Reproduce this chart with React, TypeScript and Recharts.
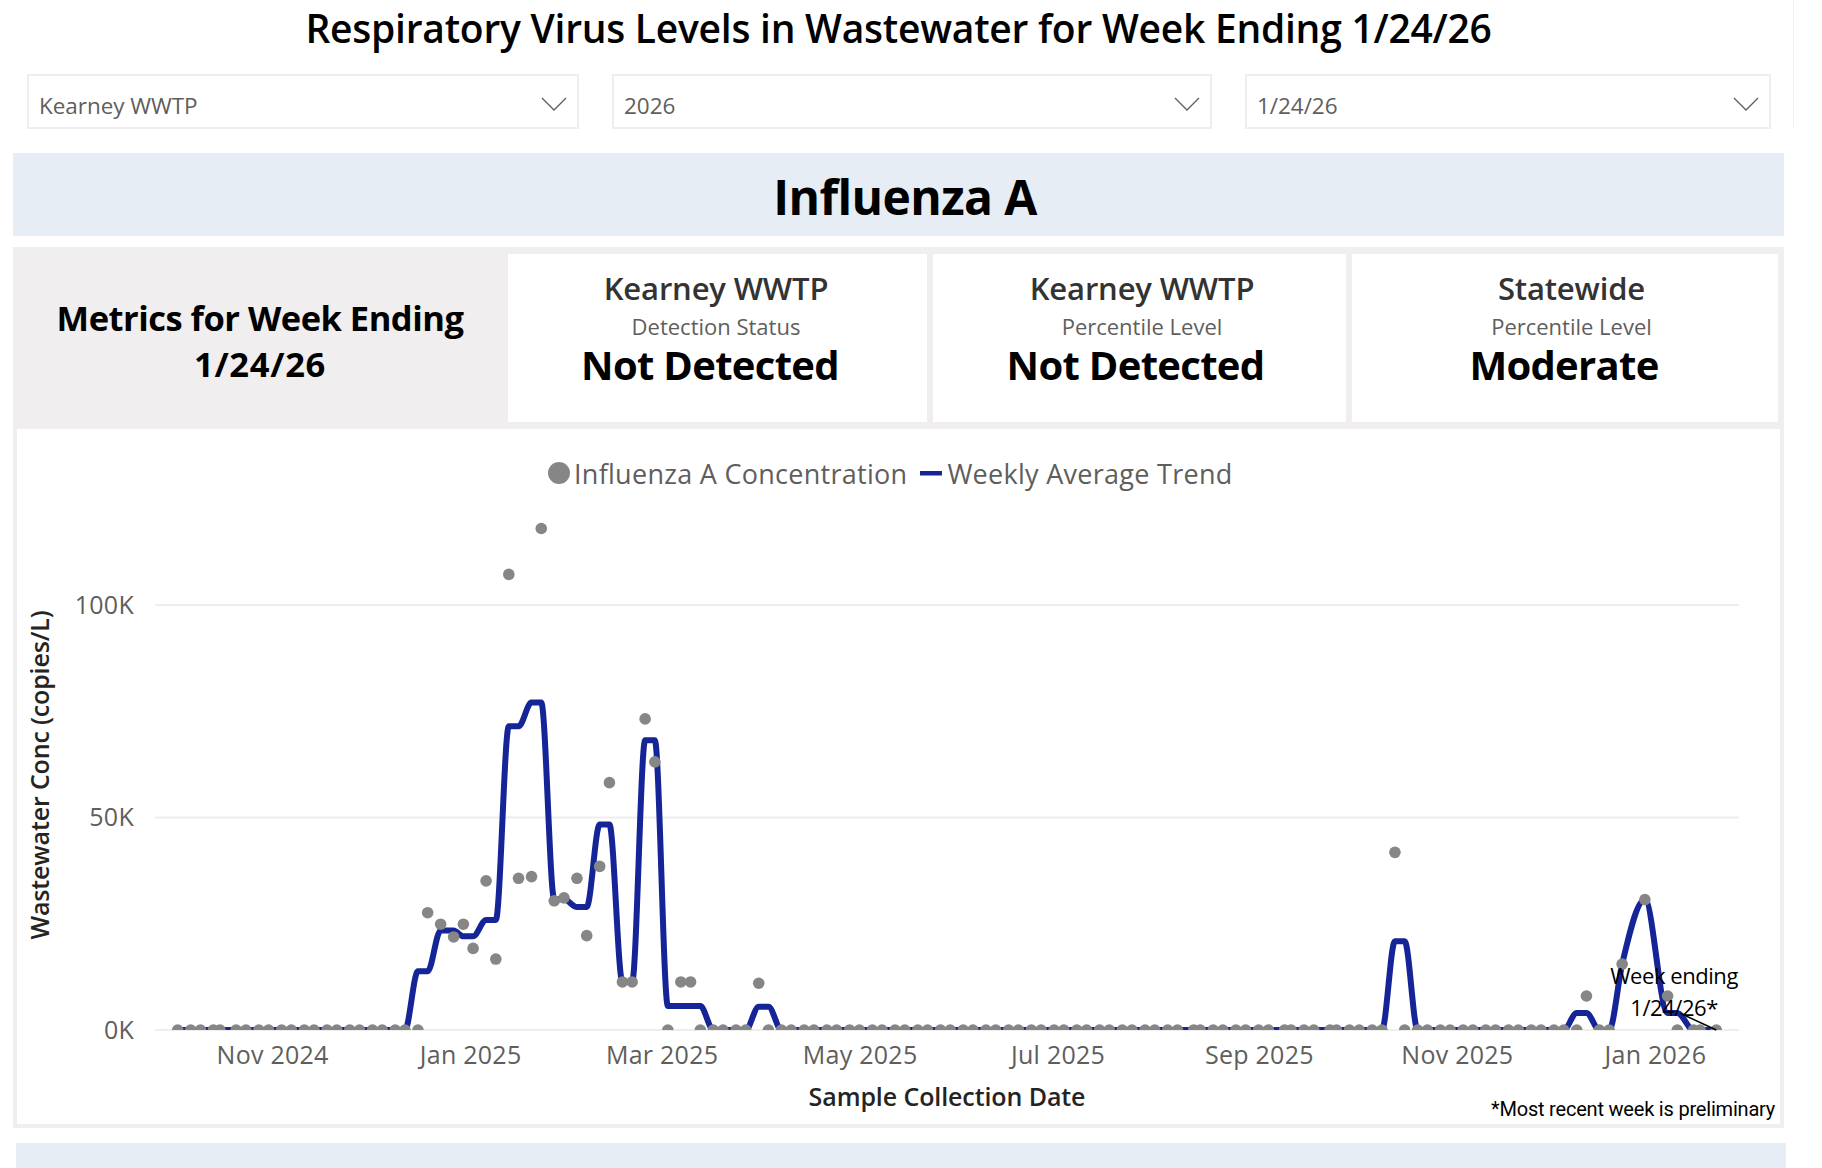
import React from "react";
import { ComposedChart, Line, XAxis, YAxis, CartesianGrid, Legend, ReferenceLine, ReferenceDot } from "recharts";

const sampleDates = [
  "2024-10-04","2024-10-08","2024-10-11","2024-10-15","2024-10-17","2024-10-22","2024-10-25","2024-10-29",
  "2024-11-01","2024-11-05","2024-11-08","2024-11-12","2024-11-15","2024-11-19","2024-11-22","2024-11-26","2024-11-29",
  "2024-12-03","2024-12-06","2024-12-10","2024-12-13","2024-12-17","2024-12-20","2024-12-24","2024-12-28","2024-12-31",
  "2025-01-03","2025-01-07","2025-01-10","2025-01-14","2025-01-17","2025-01-21","2025-01-24","2025-01-28","2025-01-31",
  "2025-02-04","2025-02-07","2025-02-11","2025-02-14","2025-02-18","2025-02-21","2025-02-25","2025-02-28",
  "2025-03-04","2025-03-08","2025-03-11","2025-03-14","2025-03-18","2025-03-21","2025-03-25","2025-03-28",
  "2025-04-01","2025-04-04","2025-04-08","2025-04-11","2025-04-15","2025-04-18","2025-04-22","2025-04-25","2025-04-29",
  "2025-05-02","2025-05-06","2025-05-09","2025-05-13","2025-05-16","2025-05-20","2025-05-23","2025-05-27","2025-05-30",
  "2025-06-03","2025-06-06","2025-06-10","2025-06-13","2025-06-17","2025-06-20","2025-06-24","2025-06-27",
  "2025-07-01","2025-07-04","2025-07-08","2025-07-11","2025-07-15","2025-07-18","2025-07-22","2025-07-25","2025-07-29",
  "2025-08-01","2025-08-05","2025-08-08","2025-08-13","2025-08-15","2025-08-19","2025-08-22","2025-08-26","2025-08-29",
  "2025-09-02","2025-09-05","2025-09-10","2025-09-12","2025-09-16","2025-09-19","2025-09-24","2025-09-26","2025-09-30",
  "2025-10-03","2025-10-07","2025-10-10","2025-10-14","2025-10-17","2025-10-21","2025-10-24","2025-10-28","2025-10-31",
  "2025-11-04","2025-11-07","2025-11-11","2025-11-14","2025-11-18","2025-11-21","2025-11-25","2025-11-28",
  "2025-12-02","2025-12-05","2025-12-09","2025-12-12","2025-12-16","2025-12-19","2025-12-23","2025-12-30",
  "2026-01-06","2026-01-09","2026-01-14","2026-01-16","2026-01-21",
];

const concentration = [
  0,0,0,0,0,0,0,0,
  0,0,0,0,0,0,0,0,0,
  0,0,0,0,0,27600,24900,21900,24900,
  19200,35100,16700,107200,35700,36100,118000,30400,31100,
  35700,22200,38500,58200,11300,11300,73200,63100,
  0,11300,11300,0,0,0,0,0,
  11000,0,0,0,0,0,0,0,0,
  0,0,0,0,0,0,0,0,0,
  0,0,0,0,0,0,0,0,
  0,0,0,0,0,0,0,0,0,
  0,0,0,0,0,0,0,0,0,
  0,0,0,0,0,0,0,0,0,
  0,0,0,41800,0,0,0,0,0,
  0,0,0,0,0,0,0,0,
  0,0,0,8000,0,0,15500,30700,
  8000,0,0,0,0,
];

const weeklyAverage = [
  0,0,0,0,0,0,0,0,
  0,0,0,0,0,0,0,0,0,
  0,0,0,0,13800,13800,23400,23400,22050,
  22050,25900,25900,71450,71450,77050,77050,30750,30750,
  28950,28950,48350,48350,11300,11300,68150,68150,
  5650,5650,5650,5650,0,0,0,0,
  5500,5500,0,0,0,0,0,0,0,
  0,0,0,0,0,0,0,0,0,
  0,0,0,0,0,0,0,0,
  0,0,0,0,0,0,0,0,0,
  0,0,0,0,0,0,0,0,0,
  0,0,0,0,0,0,0,0,0,
  0,0,0,20900,20900,0,0,0,0,
  0,0,0,0,0,0,0,0,
  0,0,4000,4000,0,0,15500,30700,
  4000,4000,0,0,0,
];

const monthTicks = ["2024-11-01","2025-01-01","2025-03-01","2025-05-01","2025-07-01","2025-09-01","2025-11-01","2026-01-01"];
const monthLabels = ["Nov 2024","Jan 2025","Mar 2025","May 2025","Jul 2025","Sep 2025","Nov 2025","Jan 2026"];
const valueTicks = [0, 50000, 100000];
const dateDomain = ["2024-09-27", "2026-01-28"];
const leaderStart = { date: "2026-01-10", value: 3900 };
const leaderEnd = { date: "2026-01-21", value: 0 };
const noteAnchor = { date: "2026-01-08", value: 10800 };
const noteLines = ["Week ending", "1/24/26*"];

const ms = (s: string) => Date.parse(s + "T00:00:00Z");
const rows = sampleDates.map((d, i) => ({ date: ms(d), conc: concentration[i], avg: weeklyAverage[i] }));
const labelOf = (v: number) => monthLabels[monthTicks.findIndex((t) => ms(t) === v)] ?? "";

const FONT = "'Open Sans', sans-serif";
const GRAY = "#605E5C";
const DOT = "#868686";
const NAVY = "#152598";
const BAND = "#E6EDF4";
const FRAME = "#F0EEEE";

type TProps = { x: number; cy: number; size: number; weight?: number; color?: string; ls?: number; children: React.ReactNode };
const Centered = ({ x, cy, size, weight = 400, color = "#000", ls = 0, children }: TProps) => (
  <div style={{ position: "absolute", left: x - 800, width: 1600, top: cy - size * 0.6, height: size * 1.2, lineHeight: `${size * 1.2}px`, textAlign: "center", fontSize: size, fontWeight: weight, color, letterSpacing: ls, whiteSpace: "nowrap" }}>{children}</div>
);

const Box = ({ l, t, r, b, bg, extra }: { l: number; t: number; r: number; b: number; bg: string; extra?: React.CSSProperties }) => (
  <div style={{ position: "absolute", left: l, top: t, width: r - l, height: b - t, background: bg, boxSizing: "border-box", ...extra }} />
);

const Dropdown = ({ l, r, text }: { l: number; r: number; text: string }) => (
  <div style={{ position: "absolute", left: l, top: 74, width: r - l, height: 55, background: "#fff", border: "2px solid #EEEEEE", boxSizing: "border-box" }}>
    <div style={{ position: "absolute", left: 10, top: 0, height: 59, lineHeight: "59px", fontSize: 22.5, color: GRAY, letterSpacing: -0.05 }}>{text}</div>
    <svg style={{ position: "absolute", right: 10, top: 21 }} width={26} height={15}>
      <path d="M1 1 L13 13 L25 1" fill="none" stroke={GRAY} strokeWidth={1.3} />
    </svg>
  </div>
);

const Card = ({ cx, bigCx, title, sub, big }: { cx: number; bigCx: number; title: string; sub: string; big: string }) => (
  <>
    <Centered x={cx} cy={289} size={31} weight={600} color="#333333" ls={-0.15}>{title}</Centered>
    <Centered x={cx} cy={326} size={22} color={GRAY} ls={0}>{sub}</Centered>
    <Centered x={bigCx} cy={365} size={40} weight={700} ls={-0.7}>{big}</Centered>
  </>
);

const LegendContent = () => (
  <div style={{ display: "flex", alignItems: "center", fontFamily: FONT, fontSize: 27, color: GRAY, letterSpacing: 0.28, whiteSpace: "nowrap", height: 40 }}>
    <svg width={24} height={24} style={{ marginRight: 3 }}><circle cx={12} cy={12} r={11} fill={DOT} /></svg>
    <span style={{ marginRight: 13 }}>Influenza A Concentration</span>
    <svg width={22} height={8} style={{ marginRight: 5 }}><rect x={0} y={2} width={22} height={4.5} fill={NAVY} /></svg>
    <span>Weekly Average Trend</span>
  </div>
);

const Note = (p: any) => (
  <text x={p.cx} y={p.cy} textAnchor="middle" fontFamily={FONT} fontSize={22} fontWeight={400} fill="#000" letterSpacing={-0.45}>
    <tspan x={p.cx} dy={0}>{noteLines[0]}</tspan>
    <tspan x={p.cx} dy={32}>{noteLines[1]}</tspan>
  </text>
);

export default function App() {
  return (
    <div style={{ position: "absolute", left: 0, top: 0, width: 1822, height: 1168, overflow: "hidden", background: "#fff", fontFamily: FONT }}>
      <Centered x={898.5} cy={28} size={39} weight={600} ls={-0.25}>Respiratory Virus Levels in Wastewater for Week Ending 1/24/26</Centered>
      <Box l={1793} t={0} r={1794} b={128} bg="#F3F3F3" />

      <Dropdown l={27} r={579} text="Kearney WWTP" />
      <Dropdown l={612} r={1212} text="2026" />
      <Dropdown l={1245} r={1771} text="1/24/26" />

      <Box l={13} t={153} r={1784} b={236} bg={BAND} />
      <Centered x={905} cy={197} size={48} weight={700} ls={-0.6}>Influenza A</Centered>

      <Box l={13} t={247} r={1784} b={1128} bg={FRAME} />
      <Box l={508} t={254} r={927} b={422} bg="#fff" />
      <Box l={933} t={254} r={1346} b={422} bg="#fff" />
      <Box l={1352} t={254} r={1778} b={422} bg="#fff" />
      <Box l={17} t={429} r={1780} b={1124} bg="#fff" />

      <Centered x={260} cy={318} size={34.5} weight={700} ls={-0.5}>Metrics for Week Ending</Centered>
      <Centered x={260} cy={364} size={34.5} weight={700} ls={0.7}>1/24/26</Centered>

      <Card cx={716} bigCx={710} title="Kearney WWTP" sub="Detection Status" big="Not Detected" />
      <Card cx={1142} bigCx={1135.5} title="Kearney WWTP" sub="Percentile Level" big="Not Detected" />
      <Card cx={1571.5} bigCx={1564} title="Statewide" sub="Percentile Level" big="Moderate" />

      <div style={{ position: "absolute", left: 17, top: 429 }}>
        <ComposedChart width={1763} height={695} data={rows} margin={{ top: 91, right: 41, bottom: 0, left: 0 }}>
          <CartesianGrid horizontal vertical={false} horizontalValues={valueTicks} stroke="#EEEEEE" strokeWidth={2} />
          <XAxis
            dataKey="date"
            type="number"
            scale="linear"
            domain={dateDomain.map(ms)}
            ticks={monthTicks.map(ms)}
            interval={0}
            tickFormatter={labelOf}
            axisLine={false}
            tickLine={false}
            height={94}
            tickMargin={10}
            tick={{ fill: GRAY, fontSize: 25, fontFamily: FONT, letterSpacing: 0.26, dx: 4 }}
            label={{ value: "Sample Collection Date", position: "insideBottom", offset: 18, fill: "#252423", fontSize: 25, fontWeight: 600, fontFamily: FONT, letterSpacing: -0.1 }}
          />
          <YAxis
            type="number"
            domain={[0, 120000]}
            allowDataOverflow
            ticks={valueTicks}
            tickFormatter={(v: number) => `${v / 1000}K`}
            axisLine={false}
            tickLine={false}
            width={138}
            tickMargin={15}
            tick={{ fill: GRAY, fontSize: 25, fontFamily: FONT, letterSpacing: 0.26 }}
            label={{ value: "Wastewater Conc (copies/L)", angle: -90, position: "insideLeft", offset: 23, fill: "#252423", fontSize: 25, fontWeight: 600, fontFamily: FONT, letterSpacing: -0.15, style: { textAnchor: "middle" } }}
          />
          <Legend verticalAlign="middle" align="center" layout="horizontal" content={<LegendContent />} wrapperStyle={{ top: 24, left: 530, width: "auto", right: "auto", bottom: "auto" }} />
          <Line name="Weekly Average Trend" dataKey="avg" type="monotone" stroke={NAVY} strokeWidth={6} dot={false} activeDot={false} isAnimationActive={false} />
          <Line name="Influenza A Concentration" dataKey="conc" stroke="none" legendType="circle" dot={{ r: 5.8, fill: DOT, stroke: "none" }} activeDot={false} isAnimationActive={false} />
          <ReferenceLine zIndex={1200} segment={[{ x: ms(leaderStart.date), y: leaderStart.value }, { x: ms(leaderEnd.date), y: leaderEnd.value }]} stroke="#000" strokeWidth={1.5} />
          <ReferenceDot zIndex={1200} x={ms(noteAnchor.date)} y={noteAnchor.value} r={0} shape={Note} />
        </ComposedChart>
      </div>

      <div style={{ position: "absolute", left: 1491, top: 1094, fontFamily: "Roboto, sans-serif", fontSize: 20, letterSpacing: -0.2, lineHeight: "30px", color: "#000", whiteSpace: "nowrap" }}>*Most recent week is preliminary</div>

      <Box l={16} t={1143} r={1786} b={1168} bg={BAND} />
      <Centered x={905} cy={1187} size={48} weight={700} ls={-0.6}>Influenza B</Centered>
    </div>
  );
}
